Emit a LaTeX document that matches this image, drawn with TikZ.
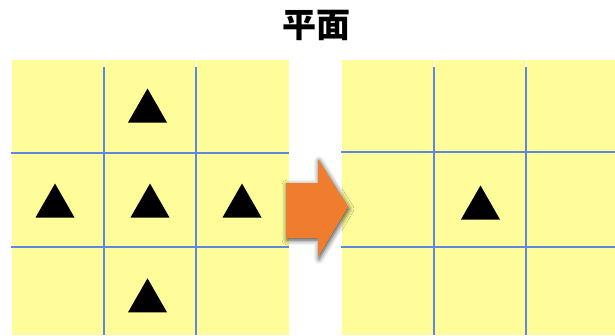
\documentclass[tikz,border=0pt]{standalone}
\usepackage{fontspec}
\newfontfamily\cjk{Noto Sans CJK SC}
\usetikzlibrary{shadows.blur}
\definecolor{cellyellow}{RGB}{255,253,153}
\definecolor{gridblue}{RGB}{95,135,225}
\definecolor{arroworange}{RGB}{240,125,45}
\tikzset{
  cell/.style={fill=cellyellow, draw=none},
  gridline/.style={draw=gridblue, line width=1.9pt},
  tri/.style={fill=black, draw=none},
  bigarrow/.style={fill=arroworange, draw=none,
    blur shadow={shadow xshift=1pt, shadow yshift=-2pt, shadow blur radius=5pt, shadow opacity=75}},
}
\newcommand{\mytri}[3]{% name, x, apex y
  \coordinate (#1) at (#2,#3+17);
  \fill[tri] (#2,#3) -- (#2+19.5,#3+34) -- (#2-19.5,#3+34) -- cycle;}
\begin{document}
\begin{tikzpicture}[x=1pt,y=-1pt]
\useasboundingbox (0,0) rectangle (615,335);
% title
\node[font=\cjk\bfseries\fontsize{34}{38}\selectfont] (title) at (316,25) {平面};
% left grid cells
\foreach \xa/\xb in {12/103.6,105/195.6,197/289}{
  \fill[cell] (\xa,60) rectangle (\xb,335);
}
% right grid cells
\foreach \xa/\xb in {342/433.6,435/525.6,527/615}{
  \fill[cell] (\xa,60) rectangle (\xb,335);
}
% left grid lines
\draw[gridline] (11,152.7) -- (289,152.7);
\draw[gridline] (11,246.7) -- (289,246.7);
\draw[gridline] (104.3,67) -- (104.3,335);
\draw[gridline] (196.3,67) -- (196.3,335);
% right grid lines
\draw[gridline] (341,152.2) -- (615,152.2);
\draw[gridline] (341,247) -- (615,247);
\draw[gridline] (434.3,67) -- (434.3,335);
\draw[gridline] (526.3,67) -- (526.3,335);
% triangles
\mytri{t1}{147.5}{88.5}
\mytri{t2}{55}{183.5}
\mytri{t3}{150}{183.5}
\mytri{t4}{242}{183.5}
\mytri{t5}{147.5}{278.3}
\mytri{t6}{480.5}{185.5}
% arrow
\path[bigarrow] (286,183) -- (318,183) -- (318,159) -- (348,207) -- (318,257) -- (318,238) -- (286,238) -- cycle;
\coordinate (arrowtip) at (348,207);
\end{tikzpicture}
\end{document}
